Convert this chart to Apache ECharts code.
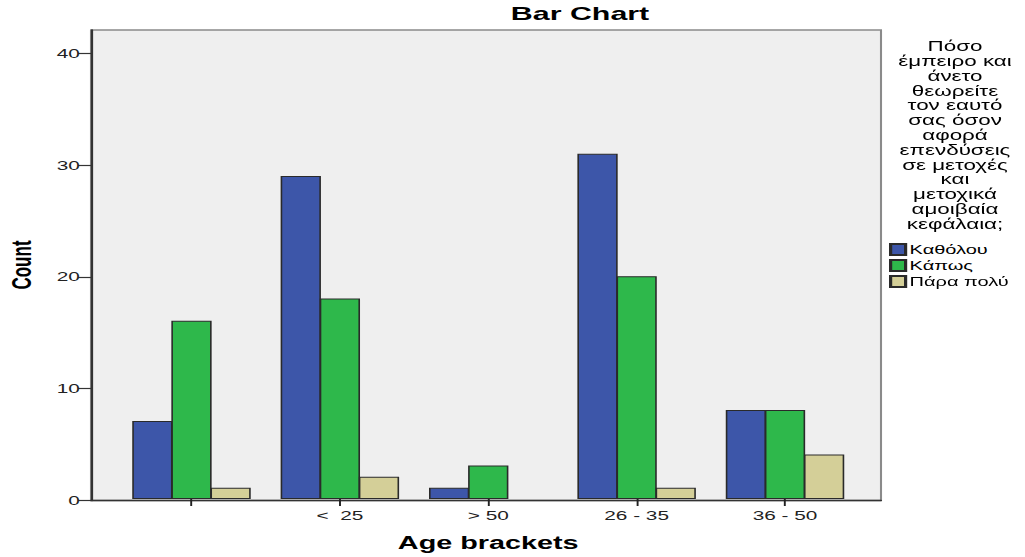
<!DOCTYPE html>
<html>
<head>
<meta charset="utf-8">
<script src="https://cdn.jsdelivr.net/npm/echarts@6/dist/echarts.min.js"></script>
<style>
  html, body { margin: 0; padding: 0; background: #fff; overflow: hidden; }
  #chart { position: absolute; left: 0; top: 0; height: 557px; transform-origin: 0 0; }
</style>
</head>
<body>
<div id="chart"></div>
<script>
// ---- data ----
const categories = ['', '<  25', '> 50', '26 - 35', '36 - 50'];
const seriesNames = ['Καθόλου', 'Κάπως', 'Πάρα πολύ'];
const katholou = [7, 29, 1, 31, 8];
const kapos = [16, 18, 3, 20, 8];
const paraPolu = [1, 2, null, 1, 4];
const yTicks = [0, 10, 20, 30, 40];
const yAxisTitle = 'Count';
const xAxisTitle = 'Age brackets';
const legendTitleLines = ['Πόσο', 'έμπειρο και', 'άνετο', 'θεωρείτε', 'τον εαυτό', 'σας όσον', 'αφορά',
  'επενδύσεις', 'σε μετοχές', 'και', 'μετοχικά', 'αμοιβαία', 'κεφάλαια;'];

// ---- layout (reference image is horizontally stretched) ----
const SX = 1.6;
const W = 1025 / SX;
const el = document.getElementById('chart');
el.style.width = W + 'px';
el.style.transform = 'scaleX(' + SX + ')';

const FONT = "'Liberation Sans', Arial, sans-serif";
const colors = ['#3d56a9', '#2eb84b', '#d4cf98'];
const yMax = 42.1;

const chart = echarts.init(el, null, { renderer: 'svg', width: W, height: 557 });

const plotLeft = 91 / SX, plotRight = W - 881 / SX;
const barLeft = 117.3 / SX, barRight = W - 859.2 / SX;
const gTop = 30, gBottom = 56.5;

const data = [katholou, kapos, paraPolu];

chart.setOption({
  animation: false,
  backgroundColor: '#ffffff',
  textStyle: { fontFamily: FONT },
  title: [
    { text: 'Bar Chart', left: 580 / SX, top: 4, textAlign: 'center', padding: 0,
      textStyle: { fontFamily: FONT, fontSize: 19, fontWeight: 'bold', color: '#000' } },
    { text: legendTitleLines.join('\n'), left: 955 / SX, top: 39, textAlign: 'center', padding: 0,
      textStyle: { fontFamily: FONT, fontSize: 14, fontWeight: 'normal', color: '#000', lineHeight: 14.8 } }
  ],
  graphic: [
    { type: 'text', x: 21 / SX, y: 265, rotation: Math.PI / 2,
      style: { text: yAxisTitle, fill: '#000', align: 'center', verticalAlign: 'middle',
        font: "bold 17px 'Liberation Sans Narrow', 'Liberation Sans', Arial, sans-serif" } }
  ],
  legend: {
    orient: 'vertical', left: 889 / SX, top: 243, padding: 0,
    itemWidth: 15 / SX, itemHeight: 11, itemGap: 3,
    icon: 'rect',
    textStyle: { fontFamily: FONT, fontSize: 12.5, color: '#000', lineHeight: 11, padding: [0, 0, 0, -2.5] },
    data: seriesNames
  },
  grid: [
    { left: plotLeft, right: plotRight, top: gTop, bottom: gBottom, show: true,
      backgroundColor: '#efefef', borderColor: '#8a8a8a', borderWidth: 1.3 },
    { left: barLeft, right: barRight, top: gTop, bottom: gBottom }
  ],
  xAxis: [
    { type: 'category', gridIndex: 0, data: categories, axisLine: { show: true, lineStyle: { color: '#333', width: 1.4 } },
      axisTick: { show: false }, axisLabel: { show: false }, splitLine: { show: false } },
    { type: 'category', gridIndex: 1, data: categories,
      axisLine: { show: false },
      axisTick: { show: true, alignWithLabel: true, length: 7, lineStyle: { color: '#222', width: 1.2 } },
      axisLabel: { margin: 10, fontFamily: FONT, fontSize: 13, color: '#222' },
      name: xAxisTitle, nameLocation: 'middle', nameGap: 35,
      nameTextStyle: { fontFamily: FONT, fontSize: 18, fontWeight: 'bold', color: '#000' } }
  ],
  yAxis: [
    { type: 'value', gridIndex: 0, min: 0, max: yMax, interval: 10,
      axisLine: { show: true, lineStyle: { color: '#333', width: 1.4 } },
      axisTick: { show: true, length: 8, customValues: yTicks, lineStyle: { color: '#333', width: 1.2 } },
      axisLabel: { margin: 7, fontFamily: FONT, fontSize: 13, color: '#222', customValues: yTicks },
      splitLine: { show: false } },
    { type: 'value', gridIndex: 1, min: 0, max: yMax, show: false, splitLine: { show: false } }
  ],
  series: seriesNames.map((name, i) => ({
    name: name,
    type: 'bar',
    xAxisIndex: 1,
    yAxisIndex: 1,
    data: data[i],
    barWidth: 40.3 / SX,
    barGap: '-3%',
    itemStyle: { color: colors[i], borderColor: '#2a2a2a', borderWidth: 1 }
  }))
});
</script>
</body>
</html>
